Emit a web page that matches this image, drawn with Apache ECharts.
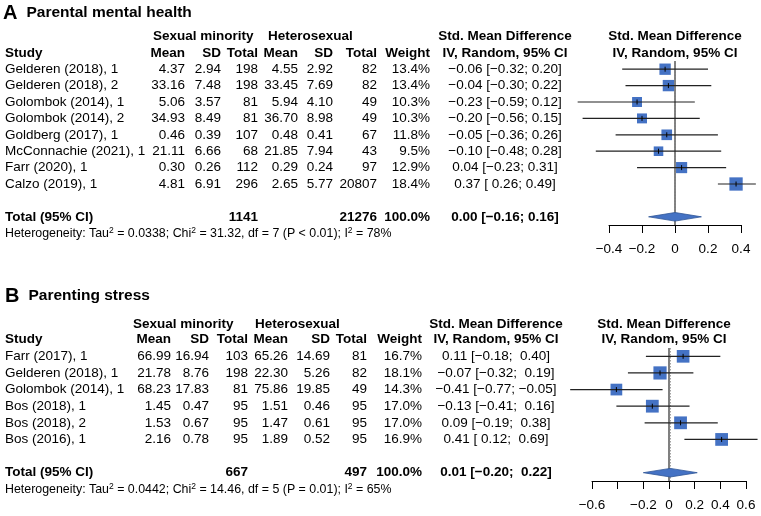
<!DOCTYPE html>
<html>
<head>
<meta charset="utf-8">
<title>Forest plots</title>
<script src="https://cdn.jsdelivr.net/npm/echarts@6/dist/echarts.min.js"></script>
<style>
  html, body { margin: 0; padding: 0; background: #fff; }
  #chart { width: 761px; height: 516px; }
</style>
</head>
<body>
<div id="chart"></div>
<script>
  // --- A: parental mental health ---
  const studiesA = ['Gelderen (2018), 1', 'Gelderen (2018), 2', 'Golombok (2014), 1', 'Golombok (2014), 2',
    'Goldberg (2017), 1', 'McConnachie (2021), 1', 'Farr (2020), 1', 'Calzo (2019), 1'];
  const smMeanA = [4.37, 33.16, 5.06, 34.93, 0.46, 21.11, 0.30, 4.81];
  const smSdA = [2.94, 7.48, 3.57, 8.49, 0.39, 6.66, 0.26, 6.91];
  const smNA = [198, 198, 81, 81, 107, 68, 112, 296];
  const hetMeanA = [4.55, 33.45, 5.94, 36.70, 0.48, 21.85, 0.29, 2.65];
  const hetSdA = [2.92, 7.69, 4.10, 8.98, 0.41, 7.94, 0.24, 5.77];
  const hetNA = [82, 82, 49, 49, 67, 43, 97, 20807];
  const weightA = [13.4, 13.4, 10.3, 10.3, 11.8, 9.5, 12.9, 18.4];
  const smdA = [-0.06, -0.04, -0.23, -0.20, -0.05, -0.10, 0.04, 0.37];
  const lowA = [-0.32, -0.30, -0.59, -0.56, -0.36, -0.48, -0.23, 0.26];
  const highA = [0.20, 0.22, 0.12, 0.15, 0.26, 0.28, 0.31, 0.49];
  const pooledA = [0.00, -0.16, 0.16];          // est, low, high
  const totalsA = [1141, 21276];
  const heterA = ['0.0338', '31.32', 7, '< 0.01', 78]; // tau2, chi2, df, p, I2
  const ticksA = [-0.4, 0.4, 0.2];                // min, max, step

  // --- B: parenting stress ---
  const studiesB = ['Farr (2017), 1', 'Gelderen (2018), 1', 'Golombok (2014), 1', 'Bos (2018), 1',
    'Bos (2018), 2', 'Bos (2016), 1'];
  const smMeanB = [66.99, 21.78, 68.23, 1.45, 1.53, 2.16];
  const smSdB = [16.94, 8.76, 17.83, 0.47, 0.67, 0.78];
  const smNB = [103, 198, 81, 95, 95, 95];
  const hetMeanB = [65.26, 22.30, 75.86, 1.51, 1.47, 1.89];
  const hetSdB = [14.69, 5.26, 19.85, 0.46, 0.61, 0.52];
  const hetNB = [81, 82, 49, 95, 95, 95];
  const weightB = [16.7, 18.1, 14.3, 17.0, 17.0, 16.9];
  const smdB = [0.11, -0.07, -0.41, -0.13, 0.09, 0.41];
  const lowB = [-0.18, -0.32, -0.77, -0.41, -0.19, 0.12];
  const highB = [0.40, 0.19, -0.05, 0.16, 0.38, 0.69];
  const pooledB = [0.01, -0.20, 0.22];
  const totalsB = [667, 497];
  const heterB = ['0.0442', '14.46', 5, '= 0.01', 65];
  const ticksB = [-0.6, 0.6, 0.2];
  const hiddenTicksB = [-0.4];

  const FONT = '"Liberation Sans", Arial, Helvetica, sans-serif';
  const BLUE = '#4472c4';

  function minus(s) { return s.replace(/-/g, '\u2212'); }
  function f2(v, pad) {
    const s = minus(v.toFixed(2));
    return pad && v >= 0 ? ' ' + s : s;
  }

  function buildRows(d, c) {
    const padLo = d.low.concat([d.pooled[1]]).some(v => v < 0);
    const padHi = d.high.concat([d.pooled[2]]).some(v => v < 0);
    const ci = (e, lo, hi) => f2(e, false) + ' [' + f2(lo, padLo) + '; ' + f2(hi, padHi) + ']';
    const cell = (text, x, align, bold) => ({ text: String(text), x: x, align: align, bold: !!bold });
    const rows = [];
    rows.push({ idx: d.groupRow, cells: [
      cell('Sexual minority', c.g1, 'left', true),
      cell('Heterosexual', c.g2, 'left', true),
      cell('Std. Mean Difference', c.ci, 'center', true),
      cell('Std. Mean Difference', c.plot, 'center', true)
    ] });
    rows.push({ idx: -1, cells: [
      cell('Study', c.study, 'left', true),
      cell('Mean', c.m1, 'right', true), cell('SD', c.sd1, 'right', true), cell('Total', c.n1, 'right', true),
      cell('Mean', c.m2, 'right', true), cell('SD', c.sd2, 'right', true), cell('Total', c.n2, 'right', true),
      cell('Weight', c.w, 'right', true),
      cell('IV, Random, 95% CI', c.ci, 'center', true),
      cell('IV, Random, 95% CI', c.plot, 'center', true)
    ] });
    d.studies.forEach((s, i) => {
      rows.push({ idx: i, cells: [
        cell(s, c.study, 'left'),
        cell(d.smMean[i].toFixed(2), c.m1, 'right'), cell(d.smSd[i].toFixed(2), c.sd1, 'right'),
        cell(d.smN[i], c.n1, 'right'),
        cell(d.hetMean[i].toFixed(2), c.m2, 'right'), cell(d.hetSd[i].toFixed(2), c.sd2, 'right'),
        cell(d.hetN[i], c.n2, 'right'),
        cell(d.weight[i].toFixed(1) + '%', c.w, 'right'),
        cell(ci(d.smd[i], d.low[i], d.high[i]), c.ci, 'center')
      ] });
    });
    rows.push({ idx: d.totalRow, cells: [
      cell('Total (95% CI)', c.study, 'left', true),
      cell(d.totals[0], c.n1, 'right', true),
      cell(d.totals[1], c.n2, 'right', true),
      cell('100.0%', c.w, 'right', true),
      cell(ci(d.pooled[0], d.pooled[1], d.pooled[2]), c.ci, 'center', true)
    ] });
    const h = d.heter;
    rows.push({ idx: d.totalRow + 1, cells: [{
      text: 'Heterogeneity: Tau{s|2} = ' + h[0] + '; Chi{s|2} = ' + h[1] + ', df = ' + h[2] +
        ' (P ' + h[3] + '); I{s|2} = ' + h[4] + '%',
      x: c.study, align: 'left', size: 12.4, rich: true
    }] });
    return rows;
  }

  function tableItem(rows) {
    return function (params, api) {
      const row = rows[params.dataIndex];
      const y = api.coord([0, row.idx])[1];
      return {
        type: 'group',
        children: row.cells.map(cl => ({
          type: 'text',
          style: {
            x: cl.x, y: y, text: cl.text, fill: '#000',
            fontSize: cl.size || 13.5, fontWeight: cl.bold ? 'bold' : 'normal', fontFamily: FONT,
            align: cl.align, verticalAlign: 'middle',
            textAlign: cl.align, textVerticalAlign: 'middle',
            lineHeight: 15,
            rich: cl.rich ? { s: { fontSize: 8.5, fontFamily: FONT, fill: '#000', verticalAlign: 'top', lineHeight: 9 } } : undefined
          }
        }))
      };
    };
  }

  function forestItem(params, api) {
    const r = api.value(1);
    const c = api.coord([api.value(0), r]);
    const lo = api.coord([api.value(2), r]);
    const hi = api.coord([api.value(3), r]);
    const s = 3.1 * Math.sqrt(api.value(4));
    return {
      type: 'group',
      children: [
        { type: 'rect', shape: { x: c[0] - s / 2, y: c[1] - s / 2, width: s, height: s }, style: { fill: BLUE } },
        { type: 'line', shape: { x1: lo[0], y1: c[1], x2: hi[0], y2: c[1] }, style: { stroke: '#222', lineWidth: 1.2 } },
        { type: 'line', shape: { x1: c[0], y1: c[1] - 2.5, x2: c[0], y2: c[1] + 2.5 }, style: { stroke: '#000', lineWidth: 1 } }
      ]
    };
  }

  function diamondItem(params, api) {
    const r = api.value(1);
    const e = api.coord([api.value(0), r]);
    const lo = api.coord([api.value(2), r]);
    const hi = api.coord([api.value(3), r]);
    const h = 4.3;
    return {
      type: 'polygon',
      shape: { points: [[lo[0], e[1]], [e[0], e[1] - h], [hi[0], e[1]], [e[0], e[1] + h]] },
      style: { fill: BLUE, stroke: '#2f5597', lineWidth: 0.8 }
    };
  }

  function refItem(yTop, yBot) {
    return function (params, api) {
      const x = api.value(0);
      const a = api.coord([x, yTop]);
      const b = api.coord([x, yBot]);
      const dotted = params.dataIndex === 1;
      return {
        type: 'line',
        shape: { x1: a[0], y1: a[1], x2: b[0], y2: b[1] },
        style: dotted ? { stroke: '#8a8a8a', lineWidth: 1, lineDash: [1.5, 1.5] } : { stroke: '#000', lineWidth: 1 }
      };
    };
  }

  function buildPanel(d, g) {
    const rows = buildRows(d, d.cols);
    const grid = { left: g.left, width: g.width, top: g.top, height: g.height };
    const xAxis = {
      type: 'value', gridIndex: g.index, position: 'bottom',
      min: d.ticks[0], max: d.ticks[1], interval: d.ticks[2],
      axisLine: { show: true, onZero: false, lineStyle: { color: '#000', width: 1 } },
      axisTick: { show: true, length: 8, lineStyle: { color: '#000', width: 1 } },
      splitLine: { show: false },
      axisLabel: {
        color: '#000', fontSize: 13.5, fontFamily: FONT, margin: 17,
        showMinLabel: true, showMaxLabel: true, hideOverlap: false,
        formatter: v => (d.hidden || []).some(t => Math.abs(t - v) < 1e-9) ? '' :
          (Math.abs(v) < 1e-9 ? '0' : minus(String(+v.toFixed(1))))
      }
    };
    const yAxis = {
      type: 'value', gridIndex: g.index, inverse: true, min: -0.5, max: d.totalRow + 0.5,
      show: false
    };
    const series = [
      {
        type: 'custom', xAxisIndex: g.index, yAxisIndex: g.index, clip: false, silent: true,
        data: [[0, 0], [d.pooled[0], 0]], encode: { x: 0, y: 1 },
        renderItem: refItem(-0.5, d.totalRow + 0.5)
      },
      {
        type: 'custom', xAxisIndex: g.index, yAxisIndex: g.index, clip: false, silent: true,
        data: d.smd.map((v, i) => [v, i, d.low[i], d.high[i], d.weight[i]]), encode: { x: 0, y: 1 },
        renderItem: forestItem
      },
      {
        type: 'custom', xAxisIndex: g.index, yAxisIndex: g.index, clip: false, silent: true,
        data: [[d.pooled[0], d.totalRow, d.pooled[1], d.pooled[2]]], encode: { x: 0, y: 1 },
        renderItem: diamondItem
      },
      {
        type: 'custom', xAxisIndex: g.index, yAxisIndex: g.index, clip: false, silent: true,
        data: rows.map(r => [0, r.idx]), encode: { x: 0, y: 1 },
        renderItem: tableItem(rows)
      }
    ];
    return { grid, xAxis, yAxis, series };
  }

  const panelA = buildPanel({
    studies: studiesA, smMean: smMeanA, smSd: smSdA, smN: smNA, hetMean: hetMeanA, hetSd: hetSdA, hetN: hetNA,
    weight: weightA, smd: smdA, low: lowA, high: highA, pooled: pooledA, totals: totalsA, heter: heterA,
    ticks: ticksA, groupRow: -2, totalRow: studiesA.length + 1,
    cols: { study: 5, m1: 185, sd1: 221, n1: 258, m2: 298, sd2: 333, n2: 377, w: 430, ci: 505, g1: 153, g2: 268, plot: 675 }
  }, { index: 0, left: 609, width: 132, top: 61, height: 164 });

  const panelB = buildPanel({
    studies: studiesB, smMean: smMeanB, smSd: smSdB, smN: smNB, hetMean: hetMeanB, hetSd: hetSdB, hetN: hetNB,
    weight: weightB, smd: smdB, low: lowB, high: highB, pooled: pooledB, totals: totalsB, heter: heterB,
    ticks: ticksB, hidden: hiddenTicksB, groupRow: -1.9, totalRow: studiesB.length + 1,
    cols: { study: 5, m1: 171, sd1: 209, n1: 248, m2: 288, sd2: 330, n2: 367, w: 422, ci: 496, g1: 133, g2: 255, plot: 664 }
  }, { index: 1, left: 592, width: 154, top: 348, height: 133 });

  const titleRich = {
    l: { fontSize: 20, fontFamily: FONT, color: '#000', lineHeight: 20, padding: [0, 9, 0, 0] },
    t: { fontSize: 15.5, fontWeight: 'bold', fontFamily: FONT, color: '#000', lineHeight: 20 }
  };

  const chart = echarts.init(document.getElementById('chart'));
  chart.setOption({
    animation: false,
    backgroundColor: '#fff',
    title: [
      { text: '{l|A}{t|Parental mental health}', left: 3, top: 3, padding: 0, textStyle: { rich: titleRich } },
      { text: '{l|B}{t|Parenting stress}', left: 5, top: 286, padding: 0, textStyle: { rich: titleRich } }
    ],
    grid: [panelA.grid, panelB.grid],
    xAxis: [panelA.xAxis, panelB.xAxis],
    yAxis: [panelA.yAxis, panelB.yAxis],
    series: panelA.series.concat(panelB.series)
  });
</script>
</body>
</html>
